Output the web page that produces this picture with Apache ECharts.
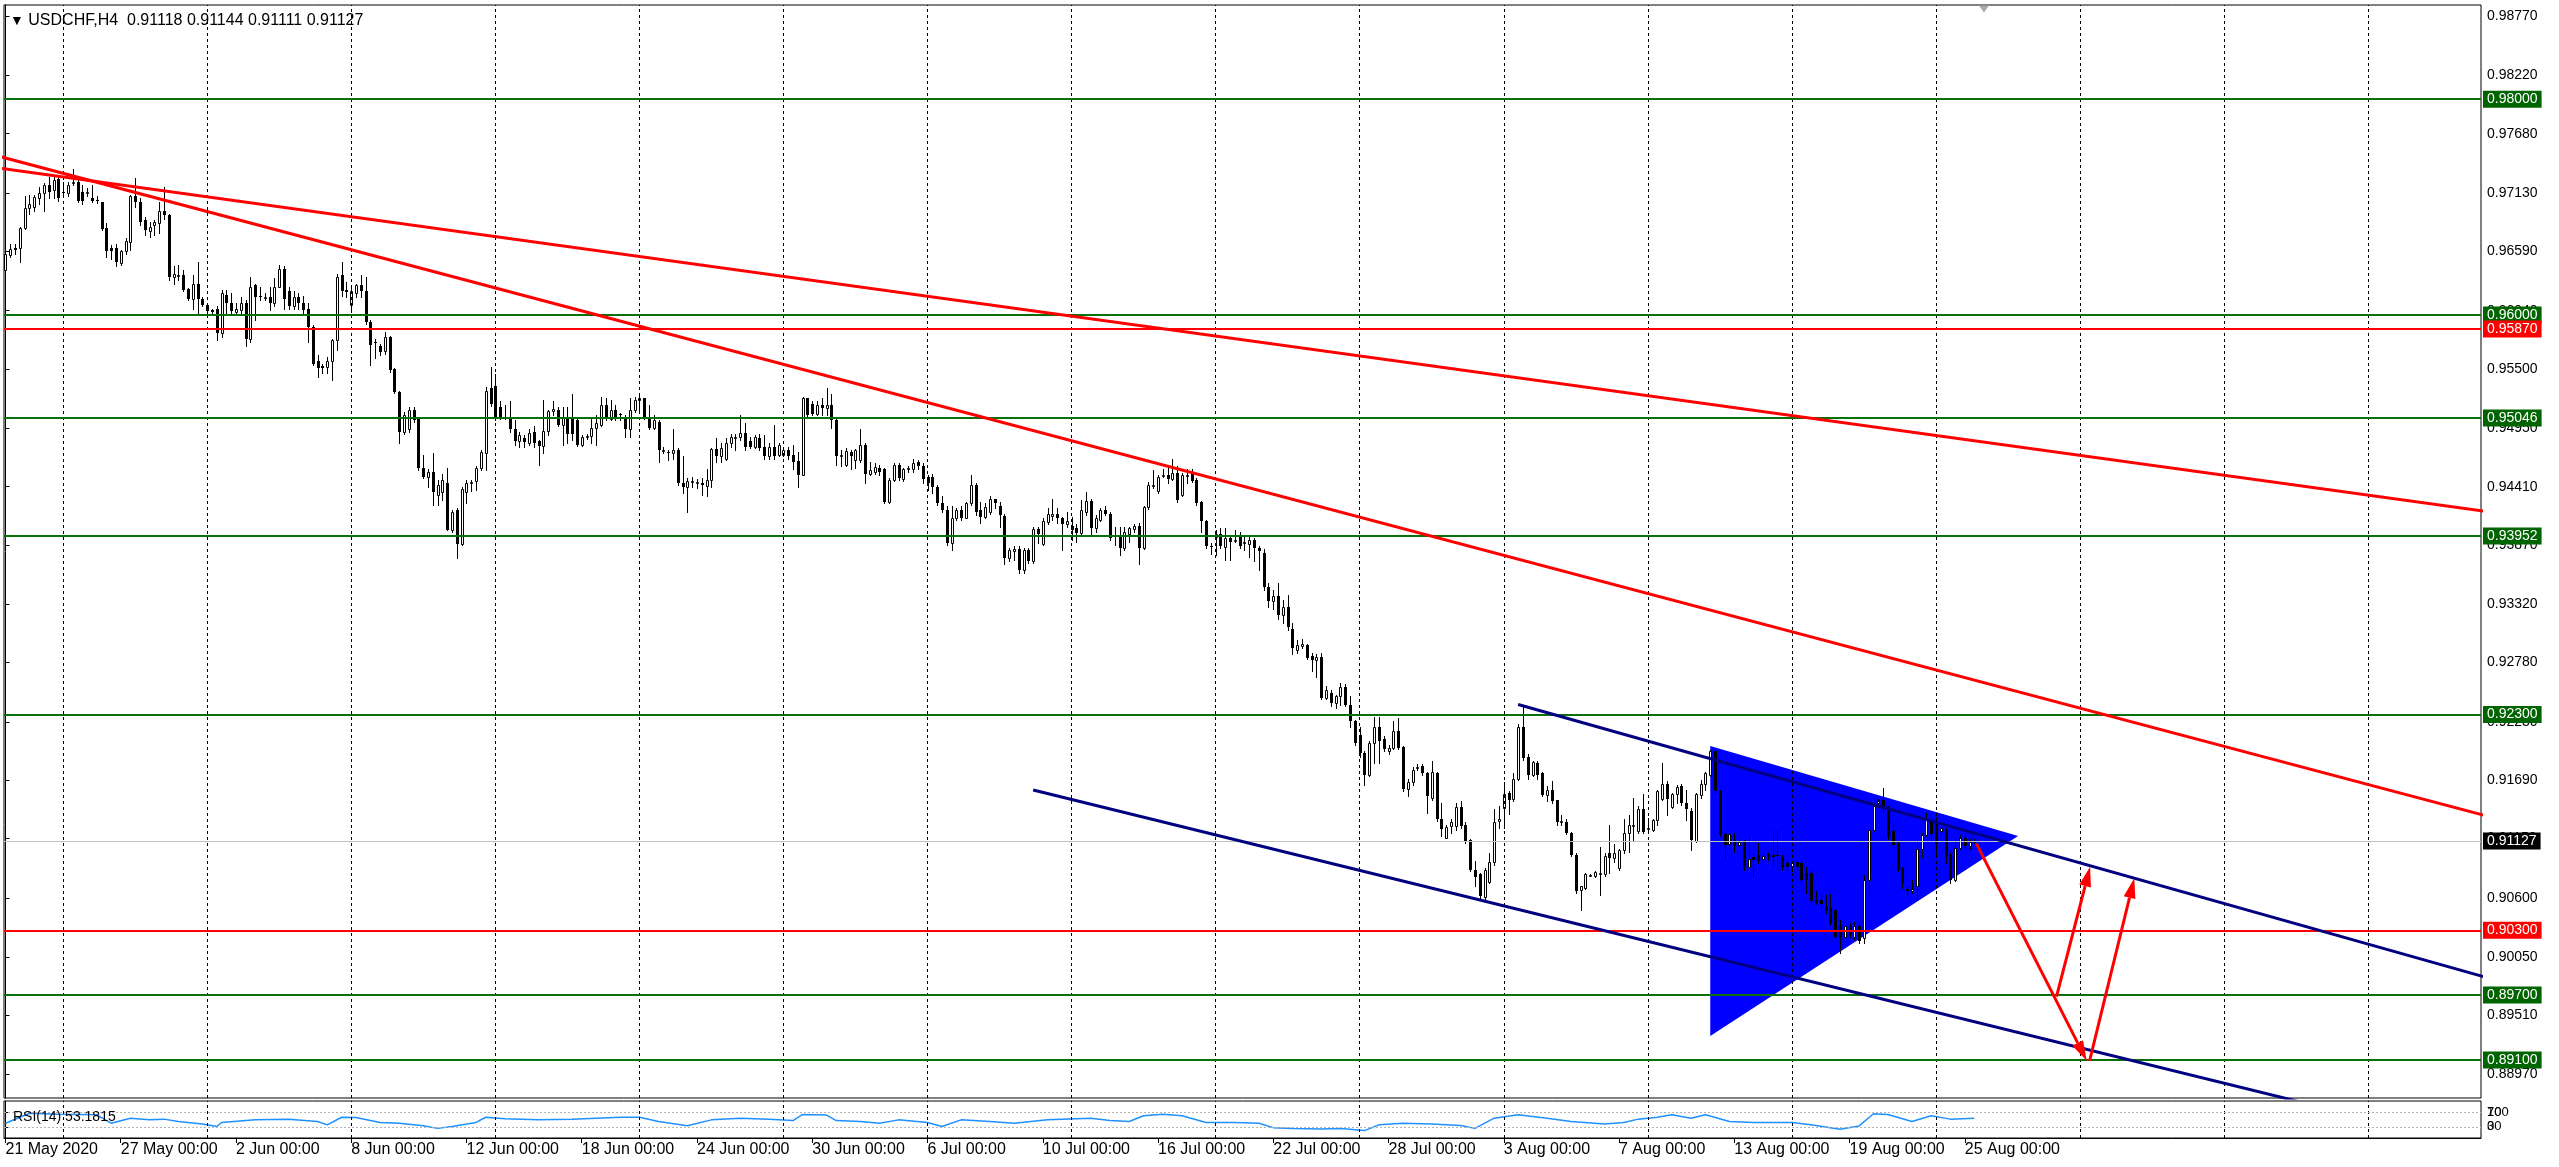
<!DOCTYPE html>
<html>
<head>
<meta charset="utf-8">
<title>USDCHF,H4</title>
<script src="https://cdn.jsdelivr.net/npm/echarts@6.0.0/dist/echarts.min.js"></script>
<style>
  html, body { margin: 0; padding: 0; background: #fff; }
  #main { width: 2559px; height: 1167px; }
</style>
</head>
<body>
<div id="main"></div>
<script>
// USDCHF H4, 21 May - 25 Aug 2020. prices are kept in pips (x 10000)
const FONT = 'Liberation Sans, Arial, sans-serif';

const opens = [
  9642,9656,9662,9662,9681,9699,9700,9708,9713,9720, 9716,9726,9714,9713,9722,9723,9714,9713,9708,9707,
  9705,9681,9662,9662,9648,9659,9668,9710,9705,9688, 9678,9683,9685,9696,9693,9635,9636,9637,9624,9615,
  9629,9615,9609,9605,9606,9583,9619,9611,9603,9605, 9611,9578,9628,9618,9617,9617,9611,9626,9643,9622,
  9608,9617,9611,9606,9589,9557,9553,9552,9557,9577, 9637,9623,9609,9620,9628,9622,9594,9575,9571,9567,
  9580,9550,9529,9492,9494,9512,9504,9458,9450,9455, 9433,9436,9444,9401,9419,9388,9436,9444,9446,9458,
  9472,9532,9534,9515,9506,9506,9494,9483,9486,9481, 9492,9483,9479,9493,9511,9512,9498,9504,9504,9503,
  9480,9487,9488,9495,9498,9517,9504,9512,9508,9505, 9494,9512,9521,9523,9506,9495,9501,9475,9473,9472,
  9475,9444,9441,9446,9444,9444,9442,9447,9476,9469, 9467,9481,9487,9487,9491,9483,9478,9486,9478,9469,
  9478,9470,9470,9475,9470,9465,9452,9523,9518,9508, 9517,9514,9517,9503,9470,9461,9473,9466,9466,9480,
  9453,9455,9458,9457,9427,9447,9461,9448,9458,9457, 9464,9460,9450,9450,9441,9426,9419,9389,9412,9419,
  9412,9426,9443,9419,9413,9418,9430,9423,9414,9375, 9381,9383,9364,9382,9372,9402,9388,9408,9414,9416,
  9412,9406,9405,9403,9398,9418,9428,9403,9410,9419, 9416,9395,9395,9384,9397,9402,9405,9384,9422,9443,
  9437,9451,9452,9448,9454,9433,9452,9454,9447,9427, 9409,9386,9394,9397,9385,9393,9392,9395,9390,9388,
  9392,9384,9380,9348,9335,9340,9322,9330,9309,9290, 9293,9294,9284,9280,9283,9245,9250,9241,9247,9255,
  9239,9224,9211,9194,9174,9204,9218,9207,9196,9199, 9215,9200,9161,9167,9180,9182,9176,9153,9176,9133,
  9116,9127,9127,9144,9128,9114,9086,9082,9061,9075, 9093,9131,9143,9157,9152,9170,9218,9191,9174,9185,
  9176,9155,9160,9151,9131,9130,9120,9100,9067,9069, 9081,9080,9083,9082,9102,9097,9088,9104,9120,9128,
  9122,9142,9125,9123,9132,9152,9166,9144,9156,9164, 9148,9141,9113,9155,9166,9174,9196,9159,9119,9110,
  9114,9109,9112,9089,9098,9100,9096,9100,9100,9100, 9098,9092,9090,9093,9092,9083,9083,9058,9058,9052,
  9051,9049,9034,9024,9034,9024,9034,9023,9077,9123, 9148,9151,9144,9122,9111,9088,9068,9066,9071,9105,
  9118,9130,9129,9122,9123,9100,9077,9106,9116,9108, 9111.8
];
const highs = [
  9660,9666,9666,9682,9710,9711,9711,9719,9722,9728, 9728,9730,9723,9723,9735,9725,9720,9718,9720,9710,
  9705,9685,9665,9666,9660,9671,9711,9727,9708,9691, 9686,9688,9705,9719,9694,9645,9646,9642,9625,9637,
  9649,9617,9611,9606,9608,9623,9623,9620,9611,9617, 9614,9635,9629,9626,9620,9626,9634,9646,9645,9626,
  9622,9620,9618,9611,9591,9563,9555,9561,9578,9638, 9649,9631,9626,9629,9637,9635,9595,9578,9573,9584,
  9581,9551,9530,9510,9515,9515,9506,9470,9457,9472, 9447,9453,9458,9419,9421,9441,9447,9447,9460,9475,
  9533,9552,9545,9520,9517,9520,9503,9492,9489,9494, 9497,9484,9521,9512,9520,9515,9515,9515,9527,9504,
  9489,9490,9506,9507,9524,9523,9521,9517,9509,9507, 9523,9524,9528,9523,9517,9507,9503,9478,9475,9494,
  9477,9469,9449,9450,9448,9449,9457,9477,9486,9481, 9486,9490,9490,9507,9500,9487,9489,9490,9489,9481,
  9498,9481,9477,9478,9480,9473,9524,9523,9520,9520, 9523,9532,9527,9504,9475,9477,9475,9476,9494,9481,
  9464,9463,9461,9458,9449,9463,9463,9458,9460,9467, 9466,9463,9452,9453,9443,9432,9423,9423,9421,9423,
  9427,9452,9444,9427,9426,9432,9430,9427,9416,9384, 9386,9386,9384,9384,9404,9404,9412,9421,9430,9421,
  9413,9418,9413,9406,9429,9436,9430,9415,9421,9423, 9418,9404,9404,9404,9404,9406,9407,9423,9445,9456,
  9452,9457,9459,9467,9460,9454,9457,9457,9449,9428, 9410,9389,9401,9403,9403,9396,9401,9399,9396,9395,
  9393,9386,9383,9352,9345,9352,9336,9341,9315,9299, 9300,9295,9287,9286,9287,9256,9253,9248,9259,9258,
  9247,9225,9218,9196,9205,9228,9228,9210,9202,9224, 9227,9201,9170,9181,9184,9184,9177,9187,9177,9148,
  9128,9133,9148,9150,9130,9115,9094,9083,9088,9102, 9142,9145,9167,9159,9176,9221,9238,9193,9187,9187,
  9177,9164,9168,9151,9137,9133,9121,9102,9071,9083, 9082,9085,9107,9102,9128,9110,9105,9133,9137,9153,
  9145,9156,9134,9133,9160,9185,9168,9157,9165,9166, 9160,9143,9157,9169,9177,9197,9196,9160,9120,9120,
  9120,9114,9114,9117,9102,9111,9102,9102,9122,9122, 9100,9095,9094,9094,9094,9089,9085,9066,9064,9063,
  9064,9051,9040,9035,9037,9038,9037,9081,9125,9148, 9152,9162,9145,9129,9112,9089,9071,9077,9112,9120,
  9139,9131,9135,9126,9125,9102,9115,9118,9120,9115, 9114.4
];
const lows = [
  9638,9654,9657,9649,9680,9694,9696,9703,9696,9708, 9708,9706,9711,9710,9720,9705,9703,9710,9705,9704,
  9679,9654,9652,9645,9646,9657,9660,9700,9683,9674, 9672,9674,9676,9689,9632,9629,9632,9622,9614,9606,
  9602,9608,9602,9600,9577,9580,9602,9602,9601,9601, 9571,9575,9595,9614,9614,9605,9608,9626,9606,9606,
  9606,9606,9601,9575,9554,9543,9546,9546,9540,9568, 9618,9617,9603,9617,9617,9592,9554,9560,9563,9564,
  9547,9528,9481,9490,9492,9501,9456,9449,9441,9424, 9424,9429,9401,9399,9375,9387,9426,9437,9438,9456,
  9456,9516,9503,9504,9504,9492,9480,9478,9478,9480, 9478,9461,9472,9489,9507,9497,9480,9481,9484,9479,
  9479,9485,9481,9480,9497,9503,9503,9503,9503,9487, 9487,9510,9509,9504,9494,9494,9464,9472,9466,9467,
  9443,9435,9418,9441,9440,9433,9432,9441,9464,9464, 9466,9478,9475,9484,9475,9477,9477,9475,9467,9467,
  9467,9469,9469,9467,9457,9441,9452,9506,9507,9507, 9507,9507,9495,9461,9460,9460,9457,9458,9464,9444,
  9452,9453,9452,9426,9426,9446,9447,9446,9455,9455, 9457,9444,9438,9435,9424,9418,9387,9382,9410,9410,
  9412,9424,9415,9407,9412,9416,9421,9404,9369,9372, 9373,9361,9361,9370,9370,9389,9387,9406,9410,9407,
  9382,9404,9392,9390,9396,9415,9396,9399,9409,9415, 9392,9387,9378,9382,9390,9399,9369,9383,9420,9440,
  9435,9450,9444,9447,9427,9432,9444,9445,9424,9399, 9384,9379,9378,9384,9373,9373,9390,9384,9382,9376,
  9372,9364,9345,9330,9328,9318,9315,9308,9286,9287, 9292,9281,9270,9265,9244,9244,9238,9236,9239,9238,
  9218,9202,9191,9165,9173,9185,9185,9196,9193,9198, 9198,9159,9154,9165,9179,9174,9139,9151,9131,9117,
  9116,9120,9123,9125,9111,9085,9071,9060,9057,9074, 9091,9125,9125,9138,9150,9169,9188,9170,9173,9170,
  9154,9150,9148,9128,9128,9119,9099,9065,9049,9068, 9080,9079,9063,9080,9083,9093,9086,9102,9103,9113,
  9120,9120,9120,9122,9128,9151,9137,9143,9148,9146, 9132,9104,9112,9153,9160,9173,9157,9117,9097,9108,
  9103,9108,9086,9089,9080,9092,9094,9095,9091,9089, 9086,9086,9085,9086,9074,9065,9055,9054,9051,9046,
  9035,9023,9009,9023,9024,9021,9018,9018,9063,9122, 9144,9140,9115,9108,9085,9069,9064,9065,9058,9098,
  9117,9114,9098,9120,9092,9074,9076,9105,9106,9105, 9111.1
];
const closes = [
  9657,9661,9660,9681,9699,9703,9709,9713,9720,9714, 9725,9708,9713,9720,9723,9706,9706,9714,9706,9706,
  9680,9659,9659,9649,9659,9669,9710,9705,9686,9679, 9682,9686,9696,9693,9635,9638,9637,9623,9615,9629,
  9615,9609,9604,9603,9583,9620,9611,9604,9606,9611, 9578,9626,9617,9617,9617,9611,9626,9643,9615,9608,
  9617,9611,9605,9589,9555,9551,9551,9557,9577,9635, 9622,9621,9622,9628,9622,9594,9572,9574,9566,9580,
  9549,9529,9492,9507,9512,9503,9458,9450,9455,9436, 9443,9447,9401,9418,9388,9439,9444,9445,9458,9473,
  9530,9518,9505,9506,9505,9494,9483,9489,9482,9491, 9481,9479,9493,9511,9513,9498,9506,9490,9490,9480,
  9487,9488,9495,9500,9517,9504,9512,9504,9507,9494, 9512,9521,9523,9506,9495,9503,9475,9475,9472,9475,
  9444,9441,9446,9446,9445,9443,9447,9476,9469,9477, 9481,9487,9487,9491,9478,9478,9487,9477,9469,9478,
  9469,9480,9475,9469,9464,9452,9523,9507,9508,9517, 9514,9517,9503,9469,9470,9474,9469,9475,9480,9453,
  9456,9459,9455,9427,9447,9461,9449,9457,9458,9463, 9460,9448,9444,9441,9426,9419,9389,9412,9419,9412,
  9426,9443,9418,9413,9422,9430,9426,9415,9375,9382, 9383,9364,9382,9372,9402,9397,9409,9416,9416,9412,
  9406,9409,9401,9398,9419,9428,9403,9412,9419,9416, 9393,9394,9384,9399,9403,9405,9384,9422,9443,9443,
  9450,9452,9448,9454,9429,9452,9452,9446,9426,9409, 9386,9385,9397,9386,9393,9390,9392,9386,9390,9392,
  9384,9381,9348,9335,9340,9322,9330,9311,9292,9294, 9295,9282,9280,9283,9245,9253,9241,9247,9255,9239,
  9224,9204,9194,9174,9204,9218,9205,9198,9199,9215, 9199,9161,9167,9179,9181,9176,9154,9177,9133,9124,
  9126,9130,9144,9127,9113,9086,9079,9062,9086,9093, 9130,9133,9156,9151,9170,9218,9190,9174,9186,9174,
  9155,9160,9150,9130,9131,9120,9100,9066,9071,9082, 9081,9084,9083,9099,9097,9102,9104,9120,9128,9128,
  9142,9121,9125,9132,9159,9166,9152,9156,9163,9148, 9142,9114,9156,9166,9176,9196,9159,9119,9109,9119,
  9108,9112,9089,9096,9095,9094,9099,9098,9098,9099, 9089,9089,9092,9089,9077,9077,9057,9055,9054,9049,
  9037,9024,9024,9034,9026,9034,9020,9077,9123,9145, 9150,9142,9117,9109,9086,9074,9066,9068,9105,9118,
  9132,9119,9110,9125,9099,9077,9106,9116,9108,9112, 9112.7
];

// bar index of each date label (one label every 24 bars = 4 days)
const dateIdx = [0,24,48,72,96,120,144,168,192,216,240,264,288,312,336,360,384,408];
const dateText = ['21 May 2020','27 May 00:00','2 Jun 00:00','8 Jun 00:00','12 Jun 00:00','18 Jun 00:00',
  '24 Jun 00:00','30 Jun 00:00','6 Jul 00:00','10 Jul 00:00','16 Jul 00:00','22 Jul 00:00',
  '28 Jul 00:00','3 Aug 00:00','7 Aug 00:00','13 Aug 00:00','19 Aug 00:00','25 Aug 00:00'];
const gridIdx = [12,42,72,102,132,162,192,222,252,282,312,342,372,402,432,462,492];
const priceTicks = [0.98770,0.98220,0.97680,0.97130,0.96590,0.96040,0.95500,0.94950,0.94410,0.93870,
  0.93320,0.92780,0.92230,0.91690,0.91150,0.90600,0.90050,0.89510,0.88970];

// horizontal levels
const levelPrices = [0.98000,0.96000,0.95870,0.95046,0.93952,0.92300,0.90300,0.89700,0.89100];
const levelKinds = ['g','g','r','g','g','g','r','g','g'];

// drawn objects: [barIndex, price]
const redLines = [
  [[-1, 0.97466], [516, 0.91368]],
  [[-1, 0.97359], [516, 0.94185]]
];
const channelLines = [
  [[315.0, 0.92392], [516, 0.89872]],
  [[214.0, 0.91600], [480, 0.88687]]
];
const triangle = [[355.0, 0.92008], [355.0, 0.89321], [419.1, 0.91174]];
const arrows = [
  [410.4, 0.91106, 433.4, 0.89092],
  [427.1, 0.89685, 434.1, 0.90890],
  [434.0, 0.89092, 443.3, 0.90783]
];

// RSI(14) read at sampled bars
const rsiIdx = [0,5,11,19,22,26,30,33,36,41,44,45,52,59,65,67,70,73,78,82,87,90,93,98,100,104,111,118,123,128,
  132,136,142,147,153,159,164,166,171,173,178,182,186,192,195,199,205,210,217,226,230,234,237,241,245,250,256,261,264,268,
  274,278,283,286,291,297,303,306,310,315,321,326,333,337,340,344,347,351,354,359,364,372,376,382,386,389,392,397,401,405,410];
const rsiVal = [40,67,64.5,62.7,40,53.6,49,51,44.5,38,31,42,49,51,44.5,35.5,56,55.5,42,40,33,26,31,42,56,52,49,51,53.6,56,
  56,44.5,33,49,53.6,51,47,63.6,62,47,44.5,40,49,42,31,49,44.5,40,49,53.6,47,44.5,60,64.5,60,42,42,40,28,26,
  24.5,26,20,35.5,40,38,33.6,26,53.6,62.7,53.6,44.5,38,42,51,56,62.7,53.6,62.7,44.5,42,42,35.5,23.6,32.7,65.5,63.6,44.5,60,51,53.1815];

const X_MIN = -0.31, X_MAX = 515.5;
const Y_MIN = 0.88747, Y_MAX = 0.98872;

const candles = opens.map((o, i) => [i, o / 1e4, closes[i] / 1e4, lows[i] / 1e4, highs[i] / 1e4]);
const last = candles.length - 1;
const lastBar = candles[last];

function renderCandle(params, api) {
  const i = api.value(0);
  const o = api.value(1), c = api.value(2), l = api.value(3), h = api.value(4);
  const po = api.coord([i, o]), pc = api.coord([i, c]);
  const pl = api.coord([i, l]), ph = api.coord([i, h]);
  const x = Math.round(po[0]);
  const top = Math.round(Math.min(po[1], pc[1]));
  const bot = Math.round(Math.max(po[1], pc[1]));
  const kids = [{
    type: 'line',
    shape: { x1: x + 0.5, y1: Math.round(ph[1]), x2: x + 0.5, y2: Math.round(pl[1]) + 1 },
    style: { stroke: '#000', lineWidth: 1 }
  }];
  if (c >= o) {
    kids.push({ type: 'rect', shape: { x: x - 0.5, y: top + 0.5, width: 2, height: Math.max(bot - top, 1) },
      style: { fill: '#fff', stroke: '#000', lineWidth: 1 } });
  } else {
    kids.push({ type: 'rect', shape: { x: x - 1, y: top, width: 3, height: Math.max(bot - top, 1) },
      style: { fill: '#000' } });
  }
  return { type: 'group', children: kids };
}

function renderArrow(params, api) {
  const s = api.coord([api.value(0), api.value(1)]);
  const e = api.coord([api.value(2), api.value(3)]);
  const dx = e[0] - s[0], dy = e[1] - s[1];
  const len = Math.sqrt(dx * dx + dy * dy);
  const ux = dx / len, uy = dy / len;
  const head = 20, half = 6;
  const bx = e[0] - ux * head, by = e[1] - uy * head;
  return {
    type: 'group',
    children: [
      { type: 'line', shape: { x1: s[0], y1: s[1], x2: bx, y2: by }, style: { stroke: '#ff0000', lineWidth: 3 } },
      { type: 'polygon', shape: { points: [[e[0], e[1]], [bx - uy * half, by + ux * half], [bx + uy * half, by - ux * half]] },
        style: { fill: '#ff0000' } }
    ]
  };
}

function renderTriangle(params, api) {
  const pts = [0, 1, 2].map(k => api.coord([api.value(2 * k), api.value(2 * k + 1)]));
  return { type: 'polygon', shape: { points: pts }, style: { fill: '#0000ff' } };
}

const levelData = levelPrices.map((p, k) => ({
  yAxis: p,
  lineStyle: { color: levelKinds[k] === 'g' ? '#0a700a' : '#ff0000', width: 2, type: 'solid' },
  label: { backgroundColor: levelKinds[k] === 'g' ? '#006400' : '#ff0000' }
}));
levelData.push({
  yAxis: lastBar[2],
  lineStyle: { color: '#c0c0c0', width: 1, type: 'solid' },
  label: { backgroundColor: '#000' }
});

function gridLineSeries(ax) {
  return {
    type: 'line', xAxisIndex: ax, yAxisIndex: ax, data: [], silent: true, z: 1,
    markLine: {
      symbol: 'none', silent: true, animation: false, precision: 3,
      label: { show: false },
      lineStyle: { color: '#000', width: 1, type: [3, 3] },
      data: gridIdx.map(v => ({ xAxis: v }))
    }
  };
}

function trendSeries(pts, color) {
  return {
    type: 'line', xAxisIndex: 0, yAxisIndex: 0, data: pts, showSymbol: false, silent: true, z: 5,
    lineStyle: { color: color, width: 3 }
  };
}

const axisText = { color: '#000', fontSize: 14, fontFamily: FONT };

const option = {
  animation: false,
  backgroundColor: '#fff',
  textStyle: { fontFamily: FONT },
  title: [
    {
      text: '{t|▼} USDCHF,H4  ' + [1, 4, 3, 2].map(k => lastBar[k].toFixed(5)).join(' '),
      left: 5, top: 8,
      textStyle: { fontSize: 16, fontWeight: 'normal', color: '#000', fontFamily: FONT, rich: { t: { fontSize: 14, color: '#000' } } }
    },
    {
      text: 'RSI(14) ' + rsiVal[rsiVal.length - 1].toFixed(4),
      left: 8, top: 1105,
      textStyle: { fontSize: 14, fontWeight: 'normal', color: '#000', fontFamily: FONT }
    }
  ],
  grid: [
    { left: 4, right: 78, top: 5, height: 1093, show: true, borderColor: '#000', borderWidth: 1, backgroundColor: '#fff' },
    { left: 4, right: 78, top: 1101, height: 37, show: true, borderColor: '#000', borderWidth: 1, backgroundColor: '#fff' }
  ],
  xAxis: [
    { type: 'value', gridIndex: 0, min: X_MIN, max: X_MAX, show: false },
    {
      type: 'value', gridIndex: 1, min: X_MIN, max: X_MAX,
      axisLine: { show: true, lineStyle: { color: '#000' } },
      axisTick: { show: true, length: 5, customValues: dateIdx, lineStyle: { color: '#000' } },
      axisLabel: Object.assign({ customValues: dateIdx, align: 'left', margin: 4,
        formatter: v => dateText[dateIdx.indexOf(v)] || '' }, axisText, { fontSize: 16 }),
      splitLine: { show: false }
    }
  ],
  yAxis: [
    {
      type: 'value', gridIndex: 0, position: 'right', min: Y_MIN, max: Y_MAX,
      axisLine: { show: true, lineStyle: { color: '#000' } },
      axisTick: { show: true, length: 4, customValues: priceTicks, lineStyle: { color: '#000' } },
      axisLabel: Object.assign({ customValues: priceTicks, margin: 6, formatter: v => v.toFixed(5) }, axisText),
      splitLine: { show: false }
    },
    {
      type: 'value', gridIndex: 1, position: 'right', min: 0, max: 100,
      axisLine: { show: true, lineStyle: { color: '#000' } },
      axisTick: { show: true, length: 3, customValues: [30, 70], lineStyle: { color: '#000' } },
      axisLabel: Object.assign({ customValues: [30, 70], margin: 6 }, axisText, { fontSize: 13 }),
      splitLine: { show: false }
    },
    {
      type: 'value', gridIndex: 1, position: 'right', min: 0, max: 100,
      axisLine: { show: false }, axisTick: { show: false },
      axisLabel: Object.assign({ customValues: [30, 70], margin: 6, formatter: v => (v === 70 ? '100' : '0') }, axisText, { fontSize: 13 }),
      splitLine: { show: false }
    }
  ],
  series: [
    gridLineSeries(0),
    gridLineSeries(1),
    {
      type: 'custom', xAxisIndex: 0, yAxisIndex: 0, silent: true, z: 2,
      data: [triangle.flat()],
      encode: { x: [0, 2, 4], y: [1, 3, 5] },
      renderItem: renderTriangle
    },
    {
      type: 'custom', xAxisIndex: 0, yAxisIndex: 0, silent: true, z: 3, clip: true,
      data: candles,
      encode: { x: 0, y: [1, 2, 3, 4] },
      renderItem: renderCandle,
      markPoint: {
        silent: true,
        label: { show: false },
        data: [{ coord: [last + 2, Y_MAX], symbol: 'triangle', symbolRotate: 180, symbolSize: [10, 7],
          symbolOffset: [0, 4], itemStyle: { color: '#a8a8a8' } }]
      }
    },
    {
      type: 'line', xAxisIndex: 0, yAxisIndex: 0, data: [], silent: true, z: 4,
      markLine: {
        symbol: 'none', silent: true, animation: false, precision: 5,
        label: { show: true, position: 'end', distance: 2, color: '#fff', fontSize: 14, fontFamily: FONT,
          padding: [2, 4, 1, 4], formatter: p => Number(p.value).toFixed(5) },
        data: levelData
      }
    },
    trendSeries(redLines[0], '#ff0000'),
    trendSeries(redLines[1], '#ff0000'),
    trendSeries(channelLines[0], '#000080'),
    trendSeries(channelLines[1], '#000080'),
    {
      type: 'custom', xAxisIndex: 0, yAxisIndex: 0, silent: true, z: 6,
      data: arrows,
      encode: { x: [0, 2], y: [1, 3] },
      renderItem: renderArrow
    },
    {
      type: 'line', xAxisIndex: 1, yAxisIndex: 1, silent: true, z: 3,
      data: rsiIdx.map((v, k) => [v, rsiVal[k]]),
      showSymbol: false,
      lineStyle: { color: '#1e90ff', width: 1.5 },
      markLine: {
        symbol: 'none', silent: true, animation: false,
        label: { show: false },
        lineStyle: { color: '#b4b4b4', width: 1, type: [2, 2] },
        data: [{ yAxis: 70 }, { yAxis: 30 }]
      }
    }
  ]
};

const chart = echarts.init(document.getElementById('main'));
chart.setOption(option);
</script>
</body>
</html>
